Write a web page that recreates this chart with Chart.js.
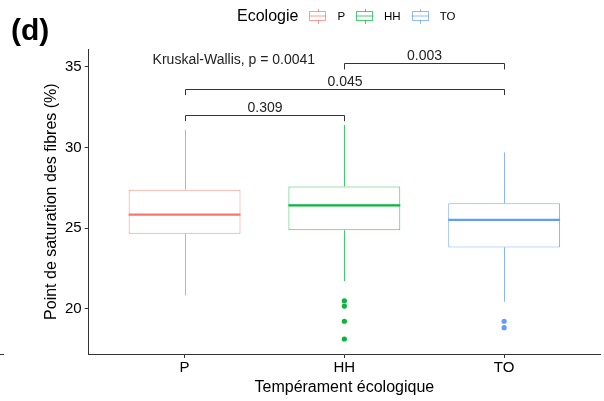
<!DOCTYPE html>
<html>
<head>
<meta charset="utf-8">
<script src="https://cdn.jsdelivr.net/npm/chart.js@4.4.1/dist/chart.umd.min.js"></script>
<style>
  html, body { margin: 0; padding: 0; background: #fff; }
  #wrap { width: 604px; height: 401px; }
</style>
</head>
<body>
<div id="wrap"><canvas id="boxChart"></canvas></div>
<script>
// values
const groups = ['P', 'HH', 'TO'];
const whiskerLow = [20.82, 21.71, 20.43];
const q1 = [24.65, 24.86, 23.80];
const medians = [25.83, 26.41, 25.51];
const q3 = [27.38, 27.58, 26.53];
const whiskerHigh = [31.07, 31.39, 29.69];
const outliersHH = [20.49, 20.16, 19.22, 18.12];
const outliersTO = [19.22, 18.82];
const yTicks = [20, 25, 30, 35];

// pairwise comparisons (Wilcoxon p values) and Kruskal-Wallis label
const pairs = [[1, 2], [1, 3], [2, 3]];
const pairLabels = ['0.309', '0.045', '0.003'];
const pairY = [32.0, 33.62, 35.21];
const kwLabel = 'Kruskal-Wallis, p = 0.0041';
const kwPos = [0.8, 35.42];

const colours = ['#F8766D', '#00BA38', '#619CFF'];
const yMin = 17.19, yMax = 36.08;
const FONT = '"Liberation Sans", Arial, sans-serif';

function fade(hex, alpha) {
    const n = parseInt(hex.slice(1), 16);
    return `rgba(${n >> 16}, ${(n >> 8) & 255}, ${n & 255}, ${alpha})`;
}

const boxExtras = {
    id: 'boxExtras',
    beforeDatasetsDraw(chart) {
        // whiskers sit behind the boxes
        const {ctx, scales: {x, y}} = chart;
        ctx.save();
        ctx.lineWidth = 1;
        groups.forEach((g, i) => {
            const px = Math.round(x.getPixelForValue(i + 1)) + 0.5;
            ctx.strokeStyle = fade(colours[i], 0.75);
            ctx.beginPath();
            ctx.moveTo(px, y.getPixelForValue(whiskerHigh[i]));
            ctx.lineTo(px, y.getPixelForValue(q3[i]));
            ctx.moveTo(px, y.getPixelForValue(q1[i]));
            ctx.lineTo(px, y.getPixelForValue(whiskerLow[i]));
            ctx.stroke();
        });
        ctx.restore();
    },
    afterDatasetsDraw(chart) {
        const {ctx, scales: {x, y}} = chart;
        ctx.save();
        // medians
        chart.getDatasetMeta(0).data.forEach((bar, i) => {
            const py = y.getPixelForValue(medians[i]);
            ctx.strokeStyle = colours[i];
            ctx.lineWidth = 2.2;
            ctx.beginPath();
            ctx.moveTo(bar.x - bar.width / 2, py);
            ctx.lineTo(bar.x + bar.width / 2, py);
            ctx.stroke();
        });

        // comparison brackets
        const tip = 0.02 * (yMax - yMin);
        ctx.strokeStyle = '#333';
        ctx.lineWidth = 1;
        ctx.fillStyle = '#222';
        ctx.font = '14px ' + FONT;
        ctx.textAlign = 'center';
        ctx.textBaseline = 'bottom';
        pairs.forEach((pair, i) => {
            const x1 = Math.round(x.getPixelForValue(pair[0])) + 0.5;
            const x2 = Math.round(x.getPixelForValue(pair[1])) + 0.5;
            const yTop = Math.round(y.getPixelForValue(pairY[i])) + 0.5;
            const yTip = y.getPixelForValue(pairY[i] - tip);
            ctx.beginPath();
            ctx.moveTo(x1, yTip);
            ctx.lineTo(x1, yTop);
            ctx.lineTo(x2, yTop);
            ctx.lineTo(x2, yTip);
            ctx.stroke();
            ctx.fillText(pairLabels[i], (x1 + x2) / 2, yTop);
        });

        ctx.textAlign = 'left';
        ctx.textBaseline = 'middle';
        ctx.fillText(kwLabel, x.getPixelForValue(kwPos[0]), y.getPixelForValue(kwPos[1]));
        ctx.restore();
    },
    afterDraw(chart) {
        const {ctx, chartArea} = chart;
        ctx.save();

        // panel letter
        ctx.fillStyle = '#000';
        ctx.font = 'bold 30px ' + FONT;
        ctx.textAlign = 'left';
        ctx.textBaseline = 'alphabetic';
        ctx.fillText('(d)', 11, 39.5);

        // stray tick from the neighbouring panel
        ctx.strokeStyle = '#333';
        ctx.lineWidth = 1;
        ctx.beginPath();
        ctx.moveTo(0, Math.round(chartArea.bottom) + 0.5);
        ctx.lineTo(4, Math.round(chartArea.bottom) + 0.5);
        ctx.stroke();

        // legend: title then one boxplot key per group
        const midY = 16.5;
        let cx = 237;
        ctx.textBaseline = 'middle';
        ctx.font = '16px ' + FONT;
        ctx.fillText('Ecologie', cx, midY);
        cx += ctx.measureText('Ecologie').width + 11;
        ctx.font = '11.5px ' + FONT;
        groups.forEach((g, i) => {
            const kw = 17;
            const mid = Math.round(cx + kw / 2) + 0.5;
            ctx.strokeStyle = fade(colours[i], 0.7);
            ctx.lineWidth = 1;
            ctx.beginPath();
            ctx.moveTo(mid, 9);
            ctx.lineTo(mid, 12);
            ctx.moveTo(mid, 20);
            ctx.lineTo(mid, 24);
            ctx.stroke();
            ctx.strokeRect(Math.round(cx) + 0.5, 11.5, kw - 1, 9);
            ctx.beginPath();
            ctx.moveTo(cx, 16);
            ctx.lineTo(cx + kw, 16);
            ctx.stroke();
            cx += kw + 11;
            ctx.fillStyle = '#000';
            ctx.fillText(g, cx, midY);
            cx += ctx.measureText(g).width + 11;
        });
        ctx.restore();
    }
};

Chart.defaults.font.family = FONT;

new Chart(document.getElementById('boxChart'), {
    type: 'bar',
    data: {
        datasets: [
            {
                label: 'Ecologie',
                data: groups.map((g, i) => ({x: i + 1, y: [q1[i], q3[i]]})),
                backgroundColor: '#ffffff',
                borderColor: colours.map(c => fade(c, 0.8)),
                borderWidth: 1,
                borderSkipped: false,
                barPercentage: 0.7,
                categoryPercentage: 1
            },
            {
                type: 'scatter',
                label: 'HH outliers',
                data: outliersHH.map(v => ({x: 2, y: v})),
                backgroundColor: colours[1],
                borderWidth: 0,
                pointRadius: 2.6
            },
            {
                type: 'scatter',
                label: 'TO outliers',
                data: outliersTO.map(v => ({x: 3, y: v})),
                backgroundColor: colours[2],
                borderWidth: 0,
                pointRadius: 2.6
            }
        ]
    },
    options: {
        responsive: true,
        maintainAspectRatio: false,
        animation: false,
        layout: {padding: {left: 0, right: 1.4, top: 49.3, bottom: 0}},
        plugins: {
            legend: {display: false},
            tooltip: {enabled: false}
        },
        scales: {
            x: {
                type: 'linear',
                min: 0.4,
                max: 3.6,
                offset: false,
                afterBuildTicks: s => { s.ticks = groups.map((g, i) => ({value: i + 1})); },
                afterFit: s => { s.height = 47; },
                ticks: {
                    callback: v => groups[v - 1],
                    color: '#000',
                    font: {size: 15},
                    padding: 1,
                    maxRotation: 0
                },
                grid: {drawOnChartArea: false, offset: false, tickLength: 4, color: '#333'},
                border: {color: '#333', width: 1},
                title: {
                    display: true,
                    text: 'Tempérament écologique',
                    color: '#000',
                    font: {size: 16},
                    padding: {top: 0, bottom: 3.4}
                }
            },
            y: {
                min: yMin,
                max: yMax,
                afterBuildTicks: s => { s.ticks = yTicks.map(v => ({value: v})); },
                afterFit: s => { s.width = 88.7; },
                ticks: {color: '#000', font: {size: 15}, padding: 3},
                grid: {drawOnChartArea: false, tickLength: 4, color: '#333'},
                border: {color: '#333', width: 1},
                title: {
                    display: true,
                    text: 'Point de saturation des fibres (%)',
                    color: '#000',
                    font: {size: 16},
                    padding: {top: 42.4, bottom: 0}
                }
            }
        }
    },
    plugins: [boxExtras]
});
</script>
</body>
</html>
